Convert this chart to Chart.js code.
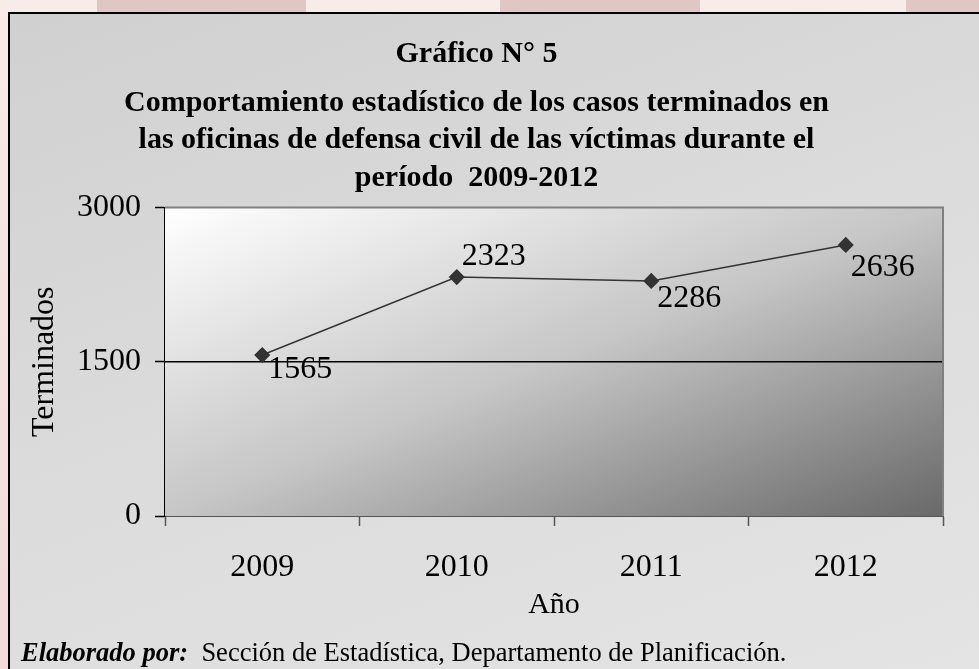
<!DOCTYPE html>
<html>
<head>
<meta charset="utf-8">
<script src="https://cdn.jsdelivr.net/npm/chart.js@4.4.1/dist/chart.umd.min.js"></script>
<style>
  html, body { margin: 0; padding: 0; }
  body {
    width: 979px; height: 669px; overflow: hidden; position: relative;
    background:
      linear-gradient(90deg, transparent 0 97px, #dfc7c4 97px 306px, transparent 306px 500px, #dfc7c4 500px 700px, transparent 700px 906px, #dfc7c4 906px) top / 100% 14px no-repeat,
      linear-gradient(180deg, #f7ece9 0%, #f4e2de 50%, #f2dad8 100%);
    font-family: 'Liberation Serif', 'Times New Roman', serif;
  }
  #box {
    position: absolute; left: 8px; top: 12px; width: 985px; height: 670px;
    box-sizing: border-box; border: 2px solid #000;
    background: linear-gradient(160deg, #d0d0d0 0%, #dcdcdc 50%, #e4e4e4 100%);
  }
  #wrap { position: absolute; left: 0; top: 0; width: 976px; height: 666px; }
  #footer {
    position: absolute; left: 11px; top: 623px; font-size: 26.5px; color: #000;
    white-space: pre; line-height: 30px;
  }
  #footer b { font-style: italic; }
</style>
</head>
<body>
<div id="box">
  <div id="wrap"><canvas id="chart"></canvas></div>
  <div id="footer"><b>Elaborado por:</b>  Sección de Estadística, Departamento de Planificación.</div>
</div>
<script>
// ===== Data =====
const years = ['2009', '2010', '2011', '2012'];
const terminados = [1565, 2323, 2286, 2636];
const yTicks = [0, 1500, 3000];

// label offsets from each point (px)
const labelDx = [6, 5, 6, 5];
const labelDy = [15, -21, 18, 23];

const SERIF = "'Liberation Serif', 'Times New Roman', serif";

// ===== Plot background + border =====
const plotBg = {
    id: 'plotBg',
    beforeDatasetsDraw(chart) {
        const { ctx, chartArea: a } = chart;
        const W = a.right - a.left, H = a.bottom - a.top;
        const k = 2 * W * H / (W * W + H * H);
        ctx.save();
        // office style diagonal: top-right and bottom-left corners share a tone
        const g = ctx.createLinearGradient(a.left, a.top, a.left + H * k, a.top + W * k);
        g.addColorStop(0, '#ffffff');
        g.addColorStop(0.5, '#c6c6c6');
        g.addColorStop(1, '#696969');
        ctx.fillStyle = g;
        ctx.fillRect(a.left, a.top, W, H);
        // 1500 line
        const y = chart.scales.y.getPixelForValue(1500);
        ctx.strokeStyle = '#000';
        ctx.lineWidth = 1.5;
        ctx.beginPath();
        ctx.moveTo(a.left, y); ctx.lineTo(a.right, y);
        ctx.stroke();
        ctx.strokeStyle = '#808080';
        ctx.lineWidth = 2;
        ctx.beginPath();
        ctx.moveTo(a.left, a.top); ctx.lineTo(a.right, a.top); ctx.lineTo(a.right, a.bottom);
        ctx.stroke();
        ctx.restore();
    }
};

// ===== Value labels =====
const valueLabels = {
    id: 'valueLabels',
    afterDatasetsDraw(chart) {
        const { ctx } = chart;
        const meta = chart.getDatasetMeta(0);
        ctx.save();
        ctx.font = `32px ${SERIF}`;
        ctx.fillStyle = '#000';
        ctx.textAlign = 'left';
        ctx.textBaseline = 'middle';
        meta.data.forEach((pt, i) => {
            ctx.fillText(String(terminados[i]), pt.x + labelDx[i], pt.y + labelDy[i]);
        });
        ctx.restore();
    }
};

const chart = new Chart(document.getElementById('chart'), {
    type: 'line',
    data: {
        labels: years,
        datasets: [{
            data: terminados,
            borderColor: '#333',
            borderWidth: 1.5,
            pointStyle: 'rectRot',
            pointRadius: 7,
            pointBackgroundColor: '#333',
            pointBorderColor: '#333',
            tension: 0
        }]
    },
    options: {
        responsive: true,
        maintainAspectRatio: false,
        animation: false,
        layout: { padding: { top: 0, left: 0, right: 43, bottom: 54 } },
        plugins: {
            legend: { display: false },
            tooltip: { enabled: false },
            title: {
                display: true,
                text: 'Gráfico N° 5',
                color: '#000',
                font: { family: SERIF, size: 30, weight: 'bold', lineHeight: 1.2 },
                padding: { top: 22, bottom: 12 }
            },
            subtitle: {
                display: true,
                text: [
                    'Comportamiento estadístico de los casos terminados en',
                    'las oficinas de defensa civil de las víctimas durante el',
                    'período  2009-2012'
                ],
                color: '#000',
                font: { family: SERIF, size: 30, weight: 'bold', lineHeight: 1.25 },
                padding: { top: 0, bottom: 11 }
            }
        },
        scales: {
            x: {
                offset: true,
                grid: {
                    offset: true,
                    drawOnChartArea: false,
                    tickLength: 10,
                    tickColor: '#555',
                    tickWidth: 1.5
                },
                border: { color: '#555', width: 2 },
                ticks: { color: '#000', padding: 22, font: { family: SERIF, size: 32 } },
                title: {
                    display: true, text: 'Año', color: '#000',
                    font: { family: SERIF, size: 30, lineHeight: 1.2 },
                    padding: { top: 0, bottom: 3 }
                },
                afterFit(scale) { scale.height = 110; }
            },
            y: {
                min: 0, max: 3000,
                afterBuildTicks(scale) { scale.ticks = yTicks.map(v => ({ value: v })); },
                grid: {
                    drawOnChartArea: false,
                    tickLength: 10,
                    tickColor: '#000',
                    tickWidth: 1.5
                },
                border: { color: '#000', width: 1.5 },
                ticks: {
                    color: '#000', padding: 14, font: { family: SERIF, size: 32 },
                    callback: (v) => String(v)
                },
                title: {
                    display: true, text: 'Terminados', color: '#000',
                    font: { family: SERIF, size: 32, lineHeight: 1.2 },
                    padding: { top: 15, bottom: 0 }
                },
                afterFit(scale) { scale.width = 155; }
            }
        }
    },
    plugins: [plotBg, valueLabels]
});
</script>
</body>
</html>
